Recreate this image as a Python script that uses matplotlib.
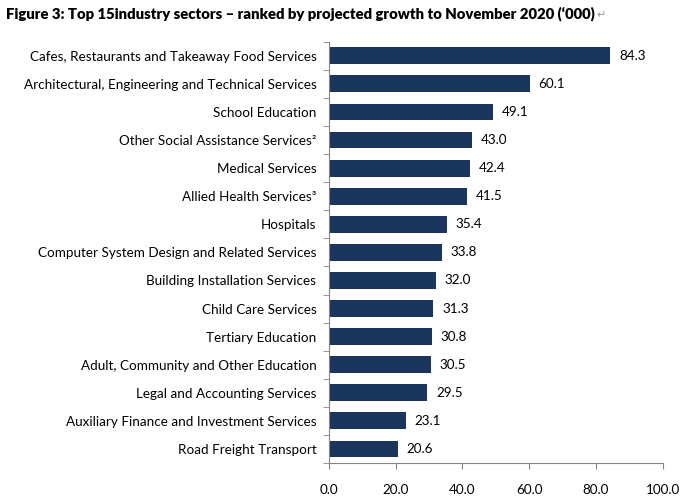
import matplotlib.pyplot as plt

plt.rcParams['font.family'] = ['Lato', 'DejaVu Sans']

sectors = [
    'Cafes, Restaurants and Takeaway Food Services',
    'Architectural, Engineering and Technical Services',
    'School Education',
    'Other Social Assistance Services\u00b2',
    'Medical Services',
    'Allied Health Services\u00b3',
    'Hospitals',
    'Computer System Design and Related Services',
    'Building Installation Services',
    'Child Care Services',
    'Tertiary Education',
    'Adult, Community and Other Education',
    'Legal and Accounting Services',
    'Auxiliary Finance and Investment Services',
    'Road Freight Transport',
]
growth = [84.3, 60.1, 49.1, 43.0, 42.4, 41.5, 35.4, 33.8, 32.0, 31.3,
          30.8, 30.5, 29.5, 23.1, 20.6]
x_ticks = [0, 20, 40, 60, 80, 100]

title = 'Figure 3: Top 15industry sectors \u2013 ranked by projected growth to November 2020 (\u2018000)'

fig = plt.figure(figsize=(6.92, 5.03), dpi=100)
ax = fig.add_axes([0.4754, 0.0795, 0.4823, 0.8375])

bar_color = '#1B365D'
axis_color = '#868686'
ypos = list(range(len(sectors)))
ax.barh(ypos, growth, height=0.6, color=bar_color)
for y, v in zip(ypos, growth):
    ax.text(v + 2.6, y, f'{v:.1f}', va='center', ha='left', fontsize=9.7)

ax.set_ylim(len(sectors) - 0.5, -0.5)
ax.set_xlim(0, 100)
ax.set_yticks(ypos)
ax.set_yticklabels(sectors, fontsize=9.7)
ax.tick_params(axis='y', length=0, pad=9)
# category boundary ticks
ax.set_yticks([i - 0.5 for i in range(len(sectors) + 1)], minor=True)
ax.tick_params(axis='y', which='minor', length=4, color=axis_color)

ax.set_xticks(x_ticks)
ax.set_xticklabels([f'{t:.1f}' for t in x_ticks], fontsize=9.7)
ax.tick_params(axis='x', length=4, color=axis_color, pad=11)

for side in ('top', 'right'):
    ax.spines[side].set_visible(False)
for side in ('left', 'bottom'):
    ax.spines[side].set_color(axis_color)

fig.text(0.009, 0.972, title, fontsize=10.7, fontweight='heavy', va='center', ha='left')
fig.text(0.862, 0.969, '\u21b5', fontsize=8, color='#999999', va='center', ha='left',
         family=['DejaVu Sans'])

fig.savefig('out.png', dpi=100)
